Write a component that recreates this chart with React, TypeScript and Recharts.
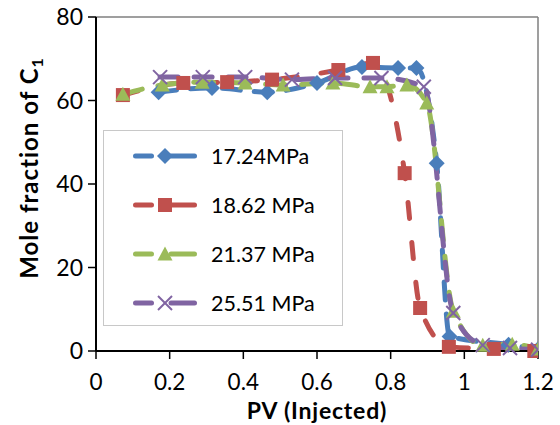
import React from "react";
import { LineChart, Line, XAxis, YAxis, Legend, ReferenceLine } from "recharts";

const xTicks = [0, 0.2, 0.4, 0.6, 0.8, 1, 1.2];
const yTicks = [0, 20, 40, 60, 80];

const pv1724 = [0.17, 0.315, 0.465, 0.6, 0.722, 0.82, 0.87, 0.925, 0.96, 1.12, 1.2];
const c1724 = [62, 63, 62, 64.2, 68, 67.8, 67.8, 45, 3.5, 1.5, 0.4];

const pv1862 = [0.073, 0.237, 0.356, 0.478, 0.658, 0.752, 0.838, 0.88, 0.958, 1.08, 1.19];
const c1862 = [61.3, 64.2, 64.4, 65, 67.3, 69, 42.6, 10.3, 1, 0.5, 0];

const pv2137 = [0.073, 0.18, 0.288, 0.405, 0.508, 0.643, 0.744, 0.79, 0.844, 0.898, 0.97, 1.05, 1.13, 1.2];
const c2137 = [61.5, 63.7, 64.4, 64.2, 63.7, 64.2, 63.3, 63.3, 63.7, 59.4, 9.5, 1.4, 1.6, 0.5];

const pv2551 = [0.174, 0.29, 0.405, 0.532, 0.649, 0.775, 0.89, 0.97, 1.05, 1.124, 1.2];
const c2551 = [65.6, 65.6, 65.6, 65, 65.4, 65.4, 63.3, 9.1, 1.4, 0.7, 0.3];

const seriesNames = ["17.24MPa", "18.62 MPa", "21.37 MPa", "25.51 MPa"];
const colors = ["#4A7EBB", "#C0504D", "#9BBB59", "#8064A2"];

const toRows = (xs: number[], ys: number[]) => xs.map((x, i) => ({ x, y: ys[i] }));

const FONT = "Lato, 'Liberation Sans', sans-serif";

function marker(kind: number, cx: number, cy: number, key?: any) {
  const c = colors[kind];
  if (kind === 0)
    return <polygon key={key} points={`${cx},${cy - 8} ${cx + 8},${cy} ${cx},${cy + 8} ${cx - 8},${cy}`} fill={c} />;
  if (kind === 1) return <rect key={key} x={cx - 7} y={cy - 7} width={14} height={14} fill={c} />;
  if (kind === 2)
    return <polygon key={key} points={`${cx},${cy - 7.5} ${cx + 7.5},${cy + 6.5} ${cx - 7.5},${cy + 6.5}`} fill={c} />;
  return (
    <g key={key}>
      <line x1={cx - 7} y1={cy - 7} x2={cx + 7} y2={cy + 7} stroke={c} strokeWidth={2} />
      <line x1={cx - 7} y1={cy + 7} x2={cx + 7} y2={cy - 7} stroke={c} strokeWidth={2} />
    </g>
  );
}

const dotFor = (kind: number) => (p: any) => marker(kind, p.cx, p.cy, p.key ?? `${kind}-${p.index}`);

const LegendBox = () => (
  <div
    style={{
      width: 240,
      height: 196,
      border: "1.5px solid #c8c8c8",
      background: "#fff",
      boxSizing: "border-box",
      position: "relative",
      fontFamily: FONT,
    }}
  >
    {seriesNames.map((n, i) => (
      <div key={n} style={{ position: "absolute", left: 27, top: 25 + i * 49 - 12, height: 24, display: "flex", alignItems: "center" }}>
        <svg width={68} height={24} style={{ display: "block" }}>
          <line x1={4.5} y1={12} x2={20.5} y2={12} stroke={colors[i]} strokeWidth={5} strokeLinecap="round" />
          <line x1={40} y1={12} x2={63.5} y2={12} stroke={colors[i]} strokeWidth={5} strokeLinecap="round" />
          {marker(i, 34, 12)}
        </svg>
        <span style={{ marginLeft: 12, fontSize: 21.5, color: "#000", whiteSpace: "nowrap", lineHeight: "24px" }}>{n}</span>
      </div>
    ))}
  </div>
);

const YLabel = (props: any) => {
  const vb = props.viewBox || { x: 0, y: 17, width: 96, height: 335 };
  const x = vb.x + 38;
  const y = vb.y + vb.height / 2 - 16;
  return (
    <text x={x} y={y} transform={`rotate(-90 ${x} ${y})`} textAnchor="middle" fontFamily={FONT} fontWeight={700} fontSize={24} letterSpacing={1} fill="#000">
      Mole fraction of C<tspan fontSize={16} dy={5}>1</tspan>
    </text>
  );
};

const XLabel = (props: any) => {
  const vb = props.viewBox || { x: 96, y: 352, width: 442, height: 74 };
  return (
    <text x={vb.x + vb.width / 2} y={vb.y + 68} textAnchor="middle" fontFamily={FONT} fontWeight={700} fontSize={23} letterSpacing={0.8} fill="#000">
      PV (Injected)
    </text>
  );
};

const lineDefs = [
  { data: toRows(pv1724, c1724), dash: "18 14" },
  { data: toRows(pv1862, c1862), dash: "16 24" },
  { data: toRows(pv2137, c2137), dash: "20 16" },
  { data: toRows(pv2551, c2551), dash: "18 16" },
];

export default function App() {
  return (
    <div style={{ position: "absolute", left: 0, top: 0, width: 560, height: 425, background: "#fff", fontFamily: FONT }}>
      <LineChart width={560} height={425} margin={{ top: 17, right: 22, bottom: 0, left: 0 }}>
        <XAxis
          dataKey="x"
          type="number"
          domain={[0, 1.2]}
          ticks={xTicks}
          allowDataOverflow
          height={74}
          tickSize={8}
          tickMargin={15}
          axisLine={{ stroke: "#000", strokeWidth: 2 }}
          tickLine={{ stroke: "#000", strokeWidth: 1.5 }}
          tick={{ fill: "#000", fontSize: 22.5, fontFamily: FONT }}
          label={<XLabel />}
        />
        <YAxis
          type="number"
          domain={[0, 80]}
          ticks={yTicks}
          width={96}
          tickSize={8}
          tickMargin={5}
          axisLine={{ stroke: "#000", strokeWidth: 2 }}
          tickLine={{ stroke: "#000", strokeWidth: 1.5 }}
          tick={{ fill: "#000", fontSize: 23, fontFamily: FONT }}
          label={<YLabel />}
        />
        <ReferenceLine y={80} stroke="#7f7f7f" strokeWidth={1.5} />
        <ReferenceLine x={1.2} stroke="#7f7f7f" strokeWidth={1.5} />
        <Legend
          layout="vertical"
          align="center"
          verticalAlign="middle"
          content={<LegendBox />}
          wrapperStyle={{ left: 103, top: 130, width: 240, height: 196 }}
        />
        {lineDefs.map((d, i) => (
          <Line
            key={seriesNames[i]}
            data={d.data}
            dataKey="y"
            name={seriesNames[i]}
            type="monotone"
            stroke={colors[i]}
            strokeWidth={5}
            strokeDasharray={d.dash}
            strokeLinecap="round"
            dot={dotFor(i)}
            activeDot={false}
            isAnimationActive={false}
          />
        ))}
      </LineChart>
    </div>
  );
}
